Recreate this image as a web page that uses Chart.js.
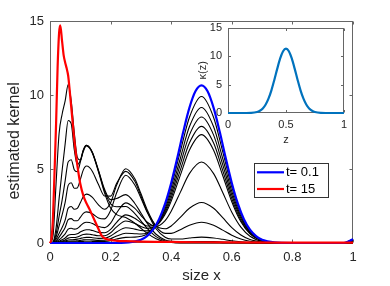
<!DOCTYPE html>
<html><head><meta charset="utf-8">
<script src="https://cdn.jsdelivr.net/npm/chart.js@4.4.1/dist/chart.umd.min.js"></script>
<style>
html,body{margin:0;padding:0;background:#fff;}
#wrap{position:relative;width:390px;height:286px;overflow:hidden;}
#main{position:absolute;left:0;top:0;}
#inset{position:absolute;left:190px;top:15px;}
</style></head><body>
<div id="wrap">
<canvas id="main" width="390" height="286"></canvas>
<canvas id="inset" width="162" height="135"></canvas>
</div>
<script>
// ---------- data ----------
const xTickLabels = ['0','0.2','0.4','0.6','0.8','1'];
const yTickLabels = ['0','5','10','15'];
const insetXTickLabels = ['0','0.5','1'];
const insetYTickLabels = ['0','5','10','15'];

const sizeX = [0,0.01,0.02,0.03,0.04,0.05,0.06,0.07,0.08,0.09,0.10,0.11,0.12,0.13,0.14,0.16,0.18,0.20,0.22,0.25,0.28,0.30,0.32,0.35,0.38,0.40,0.43,0.46,0.50,0.54,0.57,0.60,0.63,0.66,0.70,0.75,0.85,0.97,1.0];

const kernelT1  = [0,0,0.01,0.02,0.03,0.04,0.07,0.07,0.07,0.08,0.10,0.11,0.12,0.12,0.11,0.10,0.11,0.16,0.27,0.38,0.40,0.45,0.60,1.20,2.49,3.78,6.17,8.48,9.90,8.48,6.17,3.77,1.94,0.84,0.21,0.02,0,0,0.25];
const kernelT2  = [0,0,0.01,0.03,0.05,0.08,0.12,0.13,0.13,0.15,0.18,0.21,0.22,0.22,0.21,0.18,0.19,0.29,0.47,0.66,0.63,0.61,0.68,1.16,2.32,3.51,5.71,7.85,9.16,7.85,5.71,3.49,1.80,0.78,0.19,0.02,0,0,0.25];
const kernelT3  = [0,0,0.01,0.04,0.08,0.13,0.20,0.22,0.23,0.26,0.31,0.36,0.38,0.38,0.36,0.31,0.32,0.47,0.74,1.03,0.94,0.84,0.82,1.16,2.18,3.27,5.31,7.29,8.51,7.29,5.30,3.24,1.67,0.72,0.18,0.02,0,0,0.2];
const kernelT4  = [0,0,0.02,0.07,0.13,0.21,0.33,0.37,0.37,0.41,0.49,0.57,0.60,0.59,0.56,0.49,0.49,0.69,1.09,1.49,1.32,1.12,0.99,1.18,2.05,3.04,4.92,6.75,7.88,6.75,4.91,3.00,1.54,0.67,0.17,0.02,0,0,0.2];
const kernelT5  = [0,0,0.04,0.12,0.22,0.34,0.52,0.57,0.57,0.62,0.74,0.85,0.90,0.89,0.84,0.72,0.69,0.92,1.40,1.90,1.67,1.38,1.15,1.19,1.94,2.83,4.57,6.27,7.32,6.27,4.56,2.79,1.43,0.62,0.15,0.01,0,0,0.15];
const kernelT6  = [0,0.01,0.08,0.22,0.40,0.62,0.94,1.00,0.94,0.98,1.15,1.33,1.40,1.38,1.31,1.11,1.04,1.34,2.03,2.71,2.34,1.87,1.42,1.13,1.52,2.15,3.42,4.69,5.47,4.69,3.41,2.08,1.07,0.46,0.11,0.01,0,0,0.1];
const kernelT7  = [0,0.01,0.15,0.40,0.70,1.05,1.58,1.65,1.50,1.50,1.73,2.00,2.10,2.07,1.97,1.69,1.63,2.20,3.40,4.58,3.92,3.04,2.12,1.17,0.96,1.15,1.73,2.35,2.74,2.35,1.71,1.04,0.54,0.23,0.06,0.01,0,0,0.05];
const kernelT8  = [0,0.02,0.25,0.65,1.05,1.55,2.34,2.47,2.28,2.34,2.72,3.13,3.30,3.25,3.08,2.58,2.28,2.72,3.91,5.02,4.34,3.34,2.29,1.12,0.65,0.65,0.90,1.20,1.40,1.20,0.87,0.53,0.27,0.12,0.03,0,0,0,0];
const kernelT9  = [0,0.03,0.40,1.15,1.90,2.75,3.89,4.07,3.70,3.72,4.29,4.94,5.20,5.11,4.83,3.95,3.18,3.17,4.03,4.84,4.17,3.19,2.15,0.96,0.39,0.27,0.27,0.34,0.40,0.34,0.25,0.15,0.08,0.03,0.01,0,0,0,0];
const kernelT10 = [0,0.05,0.60,1.80,2.90,4.20,5.48,5.63,4.95,4.81,5.46,6.27,6.60,6.48,6.11,4.91,3.63,2.93,3.01,3.27,2.67,2.03,1.36,0.59,0.21,0.11,0.08,0.09,0.10,0.09,0.06,0.04,0.02,0.01,0,0,0,0,0];
const kernelT11 = [0,0.07,1.00,3.00,4.90,6.70,8.28,8.06,6.32,5.30,5.58,6.29,6.60,6.47,6.11,4.88,3.52,2.65,2.45,2.47,1.98,1.50,1.00,0.43,0.14,0.06,0.02,0.02,0.02,0.02,0.01,0,0,0,0,0,0,0,0];
const kernelT12 = [0,0.5,4.0,7.4,8.7,9.6,10.7,9.6,7.5,5.8,5.6,6.2,6.55,6.42,6.06,4.81,3.39,2.36,1.92,1.72,1.33,1.00,0.67,0.29,0.09,0.04,0.01,0,0,0,0,0,0,0,0,0,0,0,0];

const blueX = [0,0.20,0.26,0.30,0.32,0.34,0.36,0.38,0.40,0.42,0.44,0.46,0.48,0.50,0.52,0.54,0.56,0.58,0.60,0.62,0.64,0.66,0.68,0.70,0.74,0.80,0.97,1.0];
const blueY = [0,0,0.04,0.22,0.47,0.90,1.61,2.66,4.06,5.74,7.53,9.13,10.25,10.65,10.25,9.13,7.53,5.74,4.06,2.66,1.61,0.90,0.47,0.22,0.04,0,0,0.25];

const redX = [0,0.005,0.01,0.015,0.02,0.025,0.03,0.034,0.04,0.045,0.05,0.055,0.06,0.065,0.07,0.075,0.08,0.09,0.10,0.11,0.12,0.13,0.14,0.15,0.16,0.17,0.18,0.20,0.22,0.25,0.30,0.40,0.50,0.60,0.80,1.0];
const redY = [0,0.3,1.8,4.8,8.0,11.8,14.2,14.7,13.6,12.7,12.2,11.8,11.3,10.3,9.2,8.1,7.0,5.3,4.0,3.2,2.7,2.3,1.85,1.4,0.95,0.52,0.32,0.2,0.15,0.12,0.09,0.07,0.05,0.04,0.03,0.02];

const insetZ = [0,0.1,0.2,0.25,0.275,0.3,0.325,0.35,0.375,0.4,0.425,0.45,0.475,0.5,0.525,0.55,0.575,0.6,0.625,0.65,0.675,0.7,0.725,0.75,0.8,0.9,1.0];
const insetK = [0,0,0.03,0.18,0.40,0.80,1.50,2.56,4.03,5.84,7.79,9.58,10.84,11.3,10.84,9.58,7.79,5.84,4.03,2.56,1.50,0.80,0.40,0.18,0.03,0,0];

const blackSeries = [kernelT12,kernelT11,kernelT10,kernelT9,kernelT8,kernelT7,kernelT6,kernelT5,kernelT4,kernelT3,kernelT2,kernelT1];
// ---------- end data ----------

const FONT = "'Liberation Sans', Arial, Helvetica, sans-serif";
const TXT = '#262626';
const pts = (xs, ys) => xs.map((x, i) => ({x: x, y: ys[i]}));

const boxAxes = {
  id: 'boxAxes',
  beforeDraw(chart) {
    const {ctx, chartArea: a} = chart;
    ctx.save(); ctx.fillStyle = '#fff';
    ctx.fillRect(a.left, a.top, a.right - a.left, a.bottom - a.top);
    ctx.restore();
  },
  beforeDatasetsDraw(chart, args, opts) {
    const {ctx, chartArea: a, scales} = chart;
    const xs = scales.x, ys = scales.y, L = opts.tickLen;
    const l = Math.round(a.left) + 0.5, r = Math.round(a.right) - 0.5;
    const t = Math.round(a.top) + 0.5, b = Math.round(a.bottom) - 0.5;
    ctx.save();
    ctx.strokeStyle = opts.color; ctx.lineWidth = 1;
    ctx.strokeRect(l, t, r - l, b - t);
    ctx.beginPath();
    xs.ticks.forEach(tk => {
      const p = Math.round(xs.getPixelForValue(tk.value)) + 0.5;
      ctx.moveTo(p, b); ctx.lineTo(p, b - L);
      ctx.moveTo(p, t); ctx.lineTo(p, t + L);
    });
    ys.ticks.forEach(tk => {
      const p = Math.round(ys.getPixelForValue(tk.value)) + 0.5;
      ctx.moveTo(l, p); ctx.lineTo(l + L, p);
      ctx.moveTo(r, p); ctx.lineTo(r - L, p);
    });
    ctx.stroke();
    ctx.restore();
  }
};

const insideLegend = {
  id: 'insideLegend',
  afterDatasetsDraw(chart, args, opts) {
    if (!opts || !opts.show) return;
    const {ctx, chartArea: a} = chart;
    const x0 = a.left + opts.dx, y0 = a.top + opts.dy, w = opts.w, h = opts.h;
    const items = chart.data.datasets.filter(d => d.inLegend).sort((p, q) => p.legendRank - q.legendRank);
    ctx.save();
    ctx.fillStyle = '#fff'; ctx.fillRect(x0, y0, w, h);
    ctx.strokeStyle = '#333'; ctx.lineWidth = 1;
    ctx.strokeRect(x0 + 0.5, y0 + 0.5, w - 1, h - 1);
    ctx.font = '13px ' + FONT; ctx.textBaseline = 'middle'; ctx.textAlign = 'left';
    items.forEach((d, i) => {
      const yy = y0 + opts.rowTop + i * opts.rowGap;
      ctx.strokeStyle = d.borderColor; ctx.lineWidth = 2.2;
      ctx.beginPath(); ctx.moveTo(x0 + 3, yy); ctx.lineTo(x0 + 30, yy); ctx.stroke();
      ctx.fillStyle = '#000';
      ctx.fillText(d.label, x0 + 32, yy + 0.5);
    });
    ctx.restore();
  }
};

const datasets = [
  {label: 't= 15', data: pts(redX, redY), borderColor: '#ff0000', borderWidth: 2.2, inLegend: true, legendRank: 1},
  {label: 't= 0.1', data: pts(blueX, blueY), borderColor: '#0000ff', borderWidth: 2.2, inLegend: true, legendRank: 0}
];
blackSeries.forEach((s, i) => datasets.push({label: 'k' + i, data: pts(sizeX, s), borderColor: '#000', borderWidth: 1.1}));
datasets.forEach(d => { d.pointRadius = 0; d.fill = false; d.cubicInterpolationMode = 'monotone'; d.clip = false; });

new Chart(document.getElementById('main'), {
  type: 'line',
  data: {datasets: datasets},
  options: {
    responsive: false, animation: false, events: [],
    layout: {padding: {top: 21, right: 37, left: 0, bottom: 0}},
    plugins: {
      legend: {display: false}, tooltip: {enabled: false},
      boxAxes: {tickLen: 3, color: '#666'},
      insideLegend: {show: true, dx: 204, dy: 142, w: 75, h: 35, rowTop: 9.3, rowGap: 16.7}
    },
    scales: {
      x: {
        type: 'linear', min: 0, max: 1,
        afterFit: s => { s.height = 43; },
        grid: {display: false, drawTicks: false}, border: {display: false},
        ticks: {stepSize: 0.2, padding: 7, color: TXT, font: {family: FONT, size: 13},
                callback: (v, i) => xTickLabels[i]},
        title: {display: true, text: 'size x', color: TXT, font: {family: FONT, size: 15}, padding: {top: 0, bottom: 1}}
      },
      y: {
        type: 'linear', min: 0, max: 15,
        afterFit: s => { s.width = 50; },
        grid: {display: false, drawTicks: false}, border: {display: false},
        ticks: {stepSize: 5, padding: 6, color: TXT, font: {family: FONT, size: 13},
                callback: (v, i) => yTickLabels[i]},
        title: {display: true, text: 'estimated kernel\u00a0\u00a0\u00a0\u00a0', color: TXT, font: {family: FONT, size: 16}, padding: {top: 5, bottom: 0}}
      }
    }
  },
  plugins: [boxAxes, insideLegend]
});

new Chart(document.getElementById('inset'), {
  type: 'line',
  data: {datasets: [{label: 'kappa', data: pts(insetZ, insetK), borderColor: '#0072bd', borderWidth: 2.2,
    pointRadius: 0, fill: false, cubicInterpolationMode: 'monotone', clip: false}]},
  options: {
    responsive: false, animation: false, events: [],
    layout: {padding: {top: 12, right: 6, left: 0, bottom: 0}},
    plugins: {legend: {display: false}, tooltip: {enabled: false}, boxAxes: {tickLen: 2.5, color: '#666'}},
    scales: {
      x: {
        type: 'linear', min: 0, max: 1,
        afterFit: s => { s.height = 37; },
        grid: {display: false, drawTicks: false}, border: {display: false},
        ticks: {stepSize: 0.5, padding: 5, color: TXT, font: {family: FONT, size: 11},
                callback: (v, i) => insetXTickLabels[i]},
        title: {display: true, text: 'z', color: TXT, font: {family: FONT, size: 11}, padding: {top: 0, bottom: 3}}
      },
      y: {
        type: 'linear', min: 0, max: 15,
        afterFit: s => { s.width = 38; },
        grid: {display: false, drawTicks: false}, border: {display: false},
        ticks: {stepSize: 5, padding: 6, color: TXT, font: {family: FONT, size: 11},
                callback: (v, i) => insetYTickLabels[i]},
        title: {display: true, text: 'κ(z)', color: TXT, font: {family: FONT, size: 11}, padding: {top: 6, bottom: 0}}
      }
    }
  },
  plugins: [boxAxes]
});
</script>
</body></html>
